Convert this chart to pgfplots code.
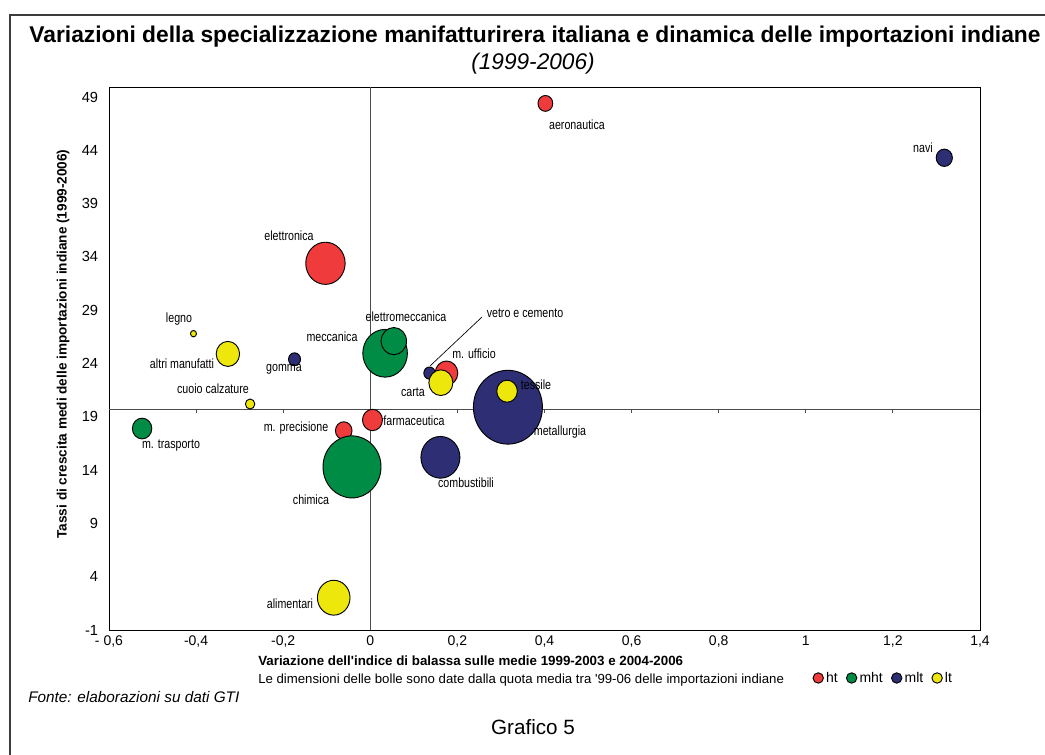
\documentclass[border=0pt]{standalone}
\usepackage{pgfplots}
\pgfplotsset{compat=1.18}
\usepackage{fontspec}
\setmainfont{Liberation Sans}
\newfontfamily\narrow[FakeStretch=0.8]{Liberation Sans}

\definecolor{cht}{RGB}{239,59,59}
\definecolor{cmht}{RGB}{0,140,69}
\definecolor{cmlt}{RGB}{45,46,115}
\definecolor{clt}{RGB}{237,231,12}
\definecolor{frame}{RGB}{60,60,60}

% x = variazione indice di Balassa, y = tasso di crescita, r = raggio della bolla (px)
\pgfplotstableread{
x      y     r
1.318  43.3  8.1
-0.174 24.4  6.0
0.136  23.1  5.7
0.161  15.2  19.5
0.316  19.9  34.5
}\tabmlt
\pgfplotstableread{
x      y     r
0.402  48.4  7.4
-0.103 33.4  19.7
0.175  23.1  11.3
-0.061 17.7  8.3
0.005  18.7  10.0
}\tabht
\pgfplotstableread{
x      y     r
-0.524 17.9  9.7
0.034  24.96 22.3
0.054  26.1  12.7
-0.042 14.3  29.0
}\tabmht
\pgfplotstableread{
x      y     r
-0.406 26.8  3.0
-0.327 24.9  11.7
-0.276 20.2  4.7
0.162  22.2  12.0
0.314  21.4  10.3
-0.084 2.03  16.3
}\tablt

\pgfplotsset{
  bubbles/.style={
    scatter, only marks, mark=*,
    scatter/use mapped color={draw=black, fill=#1},
    visualization depends on={0.75*\thisrow{r} \as \rr},
    scatter/@pre marker code/.append style={/tikz/mark size=\rr},
    mark options={line width=0.7pt, yscale=1.07},
    forget plot,
  },
}

\begin{document}
\begin{tikzpicture}[x=0.75pt,y=0.75pt]
\path[use as bounding box] (0,0) rectangle (1045,755);
\draw[frame, line width=0.8pt] (10,0) -- (10,740) -- (1045,740);

\begin{axis}[
  at={(81.75pt,93.75pt)}, anchor=south west,
  scale only axis, width=653.25pt, height=407.25pt,
  xmin=-0.6, xmax=1.4, ymin=-1, ymax=49.94,
  axis line style={black, line width=0.7pt},
  major tick length=0pt,
  xtick={-0.6,-0.4,-0.2,0,0.2,0.4,0.6,0.8,1,1.2,1.4},
  xticklabels={{- 0,6},{-0,4},{-0,2},{0},{0,2},{0,4},{0,6},{0,8},{1},{1,2},{1,4}},
  ytick={-1,4,9,14,19,24,29,34,39,44,49},
  yticklabels={-1,4,9,14,19,24,29,34,39,44,49},
  /pgf/number format/assume math mode=true,
  xticklabel style={font=\fontsize{10.5}{12}\selectfont, inner sep=0pt, anchor=north, yshift=-4pt},
  yticklabel style={font=\fontsize{11}{12}\selectfont, inner sep=0pt, anchor=east, xshift=-8pt},
  clip=false,
  legend columns=4,
  legend style={draw=none, fill=none, at={(0.808,-0.0884)}, anchor=west,
    font=\fontsize{10.5}{12}\selectfont, inner sep=0pt,
    /tikz/every even column/.append style={column sep=4.5pt},
    /tikz/every odd column/.append style={column sep=0pt}},
  legend image code/.code={\draw[#1] plot coordinates {(0.12cm,0cm)};},
]
\addlegendimage{only marks, mark=*, mark size=3.9pt, draw=black, fill=cht, mark options={line width=0.7pt}}
\addlegendentry{ht}
\addlegendimage{only marks, mark=*, mark size=3.9pt, draw=black, fill=cmht, mark options={line width=0.7pt}}
\addlegendentry{mht}
\addlegendimage{only marks, mark=*, mark size=3.9pt, draw=black, fill=cmlt, mark options={line width=0.7pt}}
\addlegendentry{mlt}
\addlegendimage{only marks, mark=*, mark size=3.9pt, draw=black, fill=clt, mark options={line width=0.7pt}}
\addlegendentry{lt}

% quadrant lines
\draw[black!70, line width=0.7pt] (axis cs:-0.6,19.7) -- (axis cs:1.4,19.7);
\draw[black!70, line width=0.7pt] (axis cs:0,-1) -- (axis cs:0,49.94);
\pgfplotsinvokeforeach{-0.4,-0.2,0.2,0.4,0.6,0.8,1,1.2}{
  \draw[black!70, line width=0.7pt] (axis cs:#1,19.7) -- ([yshift=-3pt]axis cs:#1,19.7);
}

\addplot[bubbles=cmlt] table {\tabmlt};
\addplot[bubbles=cht]  table {\tabht};
\addplot[bubbles=cmht] table {\tabmht};
\addplot[bubbles=clt]  table {\tablt};
\end{axis}

% titles
\node[font=\bfseries\fontsize{17.1}{20}\selectfont] at (535,718) {Variazioni della specializzazione manifatturirera italiana e dinamica delle importazioni indiane};
\node[font=\itshape\fontsize{17}{20}\selectfont] at (533,691) {(1999-2006)};

% axis titles and notes
\node[font=\bfseries\fontsize{10.2}{12}\selectfont, rotate=90] at (63,411) {Tassi di crescita medi delle importazioni indiane (1999-2006)};
\node[font=\bfseries\fontsize{10}{12}\selectfont, anchor=west, inner sep=0pt] at (258,94) {Variazione dell\textquotesingle indice di balassa sulle medie 1999-2003 e 2004-2006};
\node[font=\fontsize{9.9}{12}\selectfont, anchor=west, inner sep=0pt] at (258,75) {Le dimensioni delle bolle sono date dalla quota media tra \textquotesingle 99-06 delle importazioni indiane};
\node[font=\itshape\fontsize{11.5}{13}\selectfont, anchor=west, inner sep=0pt] at (28,58) {Fonte: elaborazioni su dati GTI};
\node[font=\fontsize{15.5}{18}\selectfont] at (533,28) {Grafico 5};

% bubble labels
\begin{scope}[every node/.style={font=\narrow\fontsize{10}{12}\selectfont, inner sep=0pt}]
\node at (577,630) {aeronautica};
\node at (923,607) {navi};
\node at (289,519) {elettronica};
\node at (179,436) {legno};
\node at (182,391) {altri manufatti};
\node at (284,386) {gomma};
\node at (213,366) {cuoio calzature};
\node at (171,309) {m. trasporto};
\node at (332,418) {meccanica};
\node at (406,438) {elettromeccanica};
\node at (525,442) {vetro e cemento};
\node at (474,401) {m. ufficio};
\node at (413,363) {carta};
\node at (536,370) {tessile};
\node at (560,323) {metallurgia};
\node at (414,334) {farmaceutica};
\node at (466,272) {combustibili};
\node at (296,327) {m. precisione};
\node at (311,255) {chimica};
\node at (290,151) {alimentari};
\end{scope}
\draw[black, line width=0.5pt] (482,438) -- (430,389);
\end{tikzpicture}
\end{document}
